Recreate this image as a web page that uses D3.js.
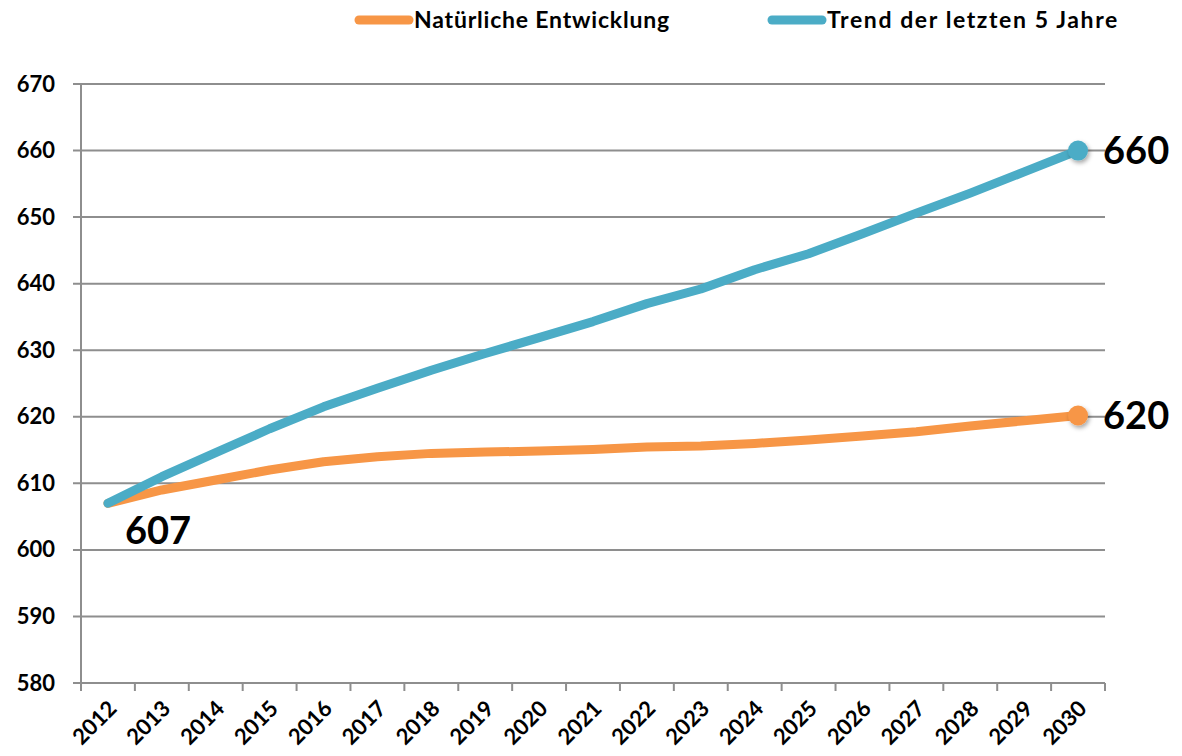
<!DOCTYPE html>
<html>
<head>
<meta charset="utf-8">
<script src="https://cdn.jsdelivr.net/npm/d3@7"></script>
<style>
  body { margin: 0; background: #fff; }
  text { font-family: Lato, "Open Sans", sans-serif; font-weight: bold; fill: #000; }
</style>
</head>
<body>
<div id="chart"></div>
<script>
// data
const years = ["2012","2013","2014","2015","2016","2017","2018","2019","2020","2021",
               "2022","2023","2024","2025","2026","2027","2028","2029","2030"];
const natuerlich = [607, 609.0, 610.5, 612.0, 613.25, 614.0, 614.5, 614.7, 614.85, 615.1,
                    615.45, 615.6, 616.0, 616.5, 617.1, 617.75, 618.6, 619.4, 620.2];
const trend = [607, 611.0, 614.6, 618.2, 621.5, 624.3, 627.0, 629.5, 631.9, 634.3,
               637.0, 639.2, 642.1, 644.5, 647.5, 650.6, 653.6, 656.8, 660];
const yTicks = [580, 590, 600, 610, 620, 630, 640, 650, 660, 670];
const seriesNames = ["Natürliche Entwicklung", "Trend der letzten 5 Jahre"];
const colors = ["#f79646", "#4bacc6"];

const width = 1182, height = 756;
const margin = {top: 84, right: 77, bottom: 73, left: 81};
const w = width - margin.left - margin.right;
const h = height - margin.top - margin.bottom;

const svg = d3.select("#chart").append("svg")
  .attr("width", width)
  .attr("height", height);

const defs = svg.append("defs");
const f = defs.append("filter").attr("id", "shadow")
  .attr("x", "-50%").attr("y", "-50%").attr("width", "200%").attr("height", "200%");
f.append("feDropShadow").attr("dx", 1.5).attr("dy", 2.5).attr("stdDeviation", 2)
  .attr("flood-color", "#000").attr("flood-opacity", 0.35);

const g = svg.append("g").attr("transform", "translate(" + margin.left + "," + margin.top + ")");

const x = d3.scaleBand().domain(years).range([0, w]);
const y = d3.scaleLinear().domain([580, 670]).range([h, 0]);
const cx = d => x(d) + x.bandwidth() / 2;

// gridlines
g.append("g").selectAll("line")
  .data(yTicks)
  .enter().append("line")
  .attr("x1", -8).attr("x2", w)
  .attr("y1", d => y(d)).attr("y2", d => y(d))
  .attr("stroke", "#8e8e8e").attr("stroke-width", 2);

// y axis
const yAxis = g.append("g")
  .call(d3.axisLeft(y).tickValues(yTicks).tickSize(0).tickPadding(26).tickFormat(d3.format("d")));
yAxis.select(".domain").remove();
yAxis.selectAll("text").style("font-size", "22px").attr("font-family", null);
g.append("line")
  .attr("x1", 0).attr("x2", 0).attr("y1", 0).attr("y2", h + 8)
  .attr("stroke", "#8e8e8e").attr("stroke-width", 2);

// x axis ticks between categories
const xBound = years.map(d => x(d)).concat([w]);
g.append("g").selectAll("line")
  .data(xBound)
  .enter().append("line")
  .attr("x1", d => d).attr("x2", d => d)
  .attr("y1", h).attr("y2", h + 8)
  .attr("stroke", "#8e8e8e").attr("stroke-width", 2);

g.append("g").selectAll("text")
  .data(years)
  .enter().append("text")
  .attr("transform", d => "translate(" + (cx(d) + 10) + "," + (h + 27) + ") rotate(-45)")
  .attr("text-anchor", "end")
  .style("font-size", "22px")
  .text(d => d);

// lines
const line = d3.line()
  .x((d, i) => cx(years[i]))
  .y(d => y(d));

[natuerlich, trend].forEach((vals, k) => {
  g.append("path")
    .datum(vals)
    .attr("d", line)
    .attr("fill", "none")
    .attr("stroke", colors[k])
    .attr("stroke-width", 9)
    .attr("stroke-linejoin", "round")
    .attr("stroke-linecap", "round");
  const last = vals.length - 1;
  g.append("circle")
    .attr("cx", cx(years[last]))
    .attr("cy", y(vals[last]))
    .attr("r", 10)
    .attr("fill", colors[k])
    .attr("filter", "url(#shadow)");
  g.append("text")
    .attr("x", cx(years[last]) + 25)
    .attr("y", y(vals[last]))
    .attr("dy", "0.36em")
    .style("font-size", "38px")
    .text(d3.format("d")(vals[last]));
});

// start label
g.append("text")
  .attr("x", cx(years[0]) + 17)
  .attr("y", y(natuerlich[0]) + 41)
  .style("font-size", "38px")
  .text(d3.format("d")(natuerlich[0]));

// legend
const legendX = [355, 768];
seriesNames.forEach((name, k) => {
  const lg = svg.append("g").attr("transform", "translate(" + legendX[k] + ",20)");
  lg.append("line")
    .attr("x1", 4).attr("x2", 54).attr("y1", 0).attr("y2", 0)
    .attr("stroke", colors[k]).attr("stroke-width", 9).attr("stroke-linecap", "round");
  lg.append("text")
    .attr("x", 59).attr("y", 0).attr("dy", "0.36em")
    .style("font-size", "23px")
    .style("letter-spacing", k === 0 ? "0.8px" : "1.6px")
    .text(name);
});
</script>
</body>
</html>
